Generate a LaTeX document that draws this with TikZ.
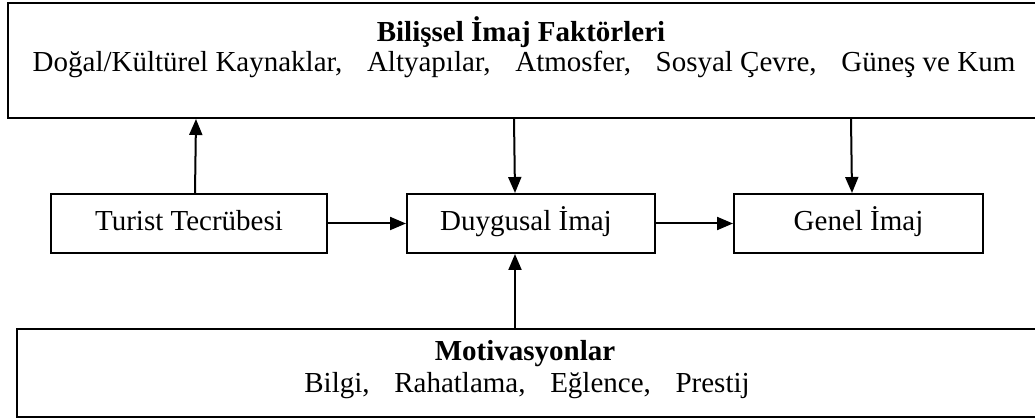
\documentclass[tikz,border=0pt]{standalone}
\usepackage{fontspec}
\setmainfont{Liberation Serif}
\usetikzlibrary{calc,arrows.meta}
\newcommand{\itemgap}{\hspace{0.6em}}
\begin{document}
\begin{tikzpicture}[x=1pt,y=-1pt,
  panel/.style={draw=black,line width=2pt,inner sep=0pt},
  stage/.style={draw=black,line width=2pt,inner sep=0pt,minimum height=59pt},
  txt/.style={inner sep=0pt,anchor=base,font=\fontsize{29}{32}\selectfont},
  head/.style={inner sep=0pt,anchor=base,font=\fontsize{29}{32}\selectfont\bfseries},
  arr/.style={line width=2pt,-{Triangle[length=16pt,width=13pt]}}]
\useasboundingbox (0,0) rectangle (1035,419);
\fill[white] (0,0) rectangle (1035,419);

% cognitive image factors (top panel, open to the right margin)
\node[panel,minimum width=1034pt,minimum height=115pt] (cog) at (525,60.5) {};
\node[head] (cogT) at (521,42) {Bilişsel İmaj Faktörleri};
\node[txt] (cogL) at (524,72) {Doğal/Kültürel Kaynaklar,\itemgap{} Altyapılar,\itemgap{} Atmosfer,\itemgap{} Sosyal Çevre,\itemgap{} Güneş ve Kum};

% middle row
\node[stage,minimum width=276pt] (tt) at (189,223.5) {};
\node[txt] at ($(tt.center)+(0,7)$) {Turist Tecrübesi};
\node[stage,minimum width=248pt] (dy) at (531,223.5) {};
\node[txt] at ($(dy.center)+(-5,7)$) {Duygusal İmaj};
\node[stage,minimum width=249pt] (gi) at (858.5,223.5) {};
\node[txt] at ($(gi.center)+(0,7)$) {Genel İmaj};

% motivations (bottom panel)
\node[panel,minimum width=1023pt,minimum height=88pt] (mot) at (528.5,373) {};
\node[head] (motT) at (525,360) {Motivasyonlar};
\node[txt] (motL) at (527,392) {Bilgi,\itemgap{} Rahatlama,\itemgap{} Eğlence,\itemgap{} Prestij};

% connectors
\draw[arr] ($(tt.north)+(6,0)$) -- ($(cog.south west)+(189,0)$);
\draw[arr] ($(cog.south west)+(507,0)$) -- (dy.north -| 515,0);
\draw[arr] ($(cog.south west)+(844,0)$) -- (gi.north -| 852,0);
\draw[arr] (tt.east) -- (dy.west);
\draw[arr] (dy.east) -- (gi.west);
\draw[arr] (mot.north -| 515,0) -- (dy.south -| 515,0);
\end{tikzpicture}
\end{document}
